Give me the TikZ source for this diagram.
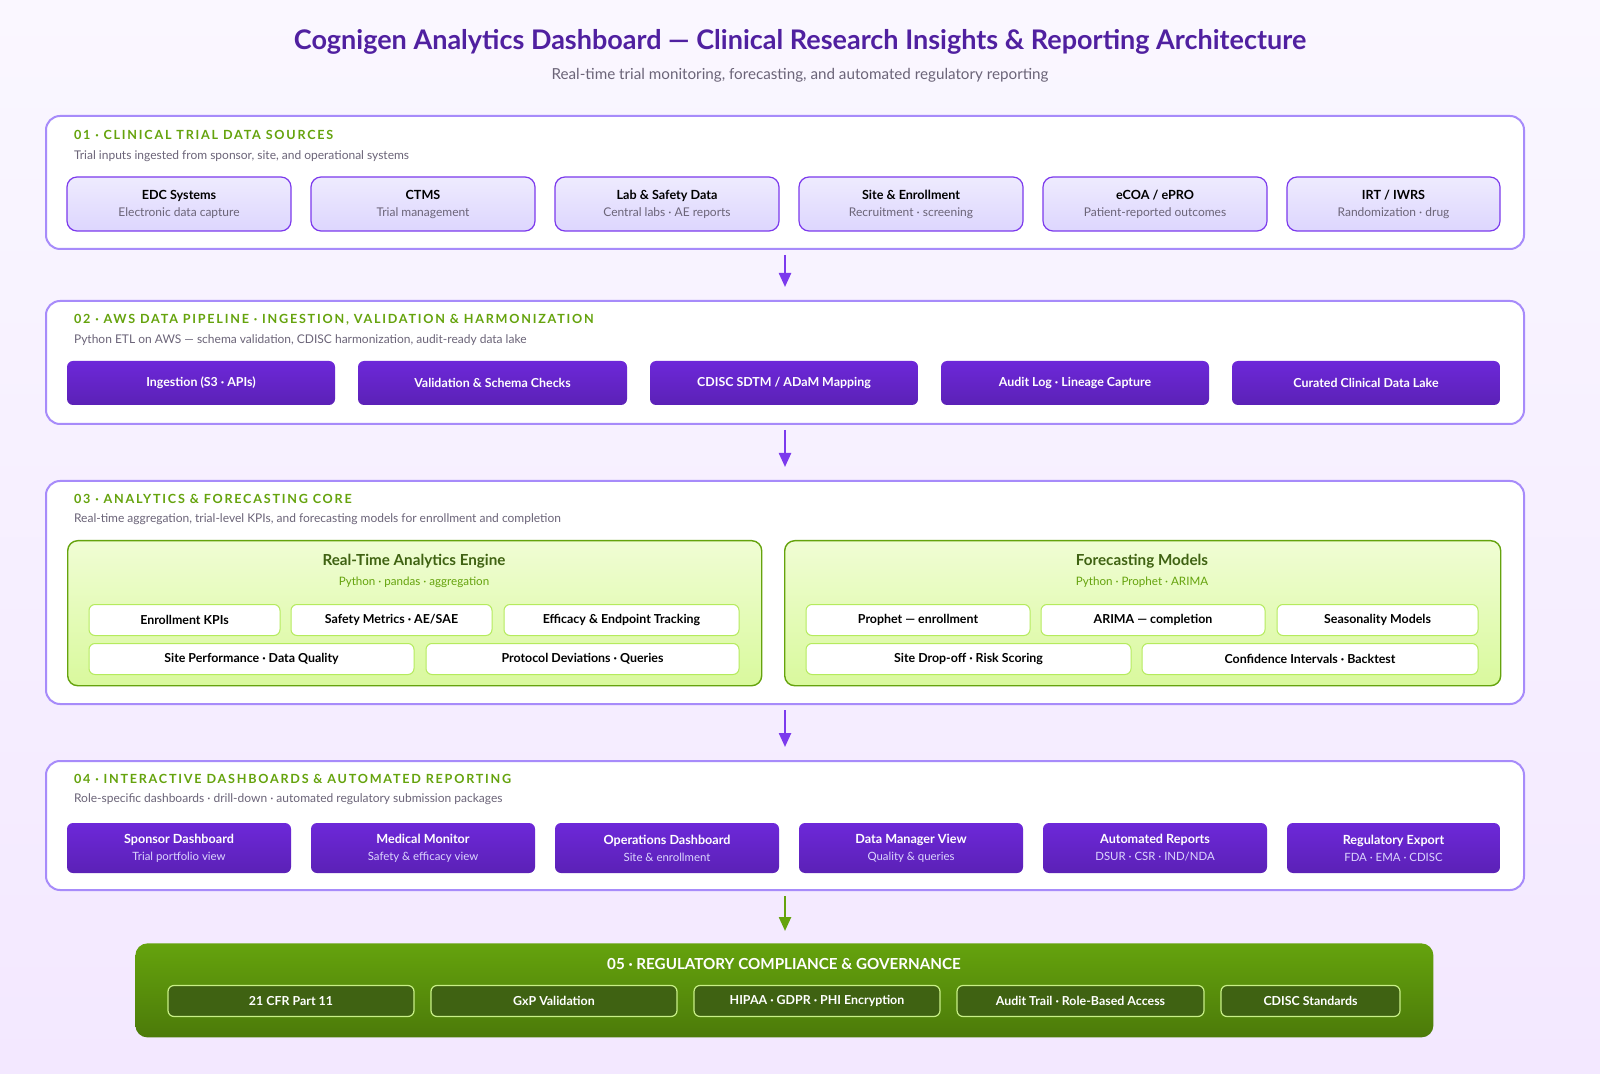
\documentclass[tikz,border=0pt]{standalone}
\usepackage{fontspec}
\setmainfont{Lato}
\newfontfamily\spaced[LetterSpace=14]{Lato}
\usetikzlibrary{arrows.meta,positioning}
\definecolor{ink}{HTML}{5020A0}
\definecolor{hdr}{HTML}{65A30D}
\definecolor{grayt}{HTML}{6B6478}
\definecolor{pborder}{HTML}{A78BFA}
\definecolor{vio}{HTML}{7C3AED}
\definecolor{deep}{HTML}{5B21B6}
\definecolor{mid}{HTML}{6D28D9}
\definecolor{lime}{HTML}{A3E635}
\definecolor{olive}{HTML}{3F6212}
\definecolor{lav1}{HTML}{EEEBFE}
\definecolor{lav2}{HTML}{DDD6FE}
\definecolor{bg1}{HTML}{FAF7FF}
\definecolor{bg2}{HTML}{F3E8FF}
\definecolor{eng1}{HTML}{F0FDD4}
\definecolor{eng2}{HTML}{D9F99D}
\tikzset{
  panel/.style={draw=pborder, line width=1pt, fill=white, rounded corners=7pt, anchor=north west, inner sep=0pt},
  src/.style={draw=vio, line width=0.6pt, top color=lav1, bottom color=lav2, rounded corners=5pt, align=center, font=\fontsize{6}{8.5}\selectfont},
  pipe/.style={top color=mid, bottom color=deep, rounded corners=3pt, text=white, align=center, font=\fontsize{6.2}{8.5}\selectfont\bfseries},
  engine/.style={draw=hdr, line width=0.7pt, top color=eng1, bottom color=eng2, rounded corners=5pt, anchor=north west, inner sep=0pt},
  pill/.style={draw=lime!80, line width=0.5pt, fill=white, rounded corners=3pt, font=\fontsize{6.2}{7}\selectfont\bfseries},
  rule/.style={draw=lime!60, line width=0.6pt, fill=olive, rounded corners=3pt, text=white, font=\fontsize{6.2}{7}\selectfont\bfseries},
  head/.style={anchor=west, text=hdr, font=\fontsize{6.3}{7}\spaced\bfseries},
  note/.style={anchor=west, text=grayt, font=\fontsize{6}{7}\selectfont},
  flow/.style={-{Triangle[length=7pt,width=6pt]}, line width=1.2pt, draw=vio, shorten <=2.5pt, shorten >=6.5pt},
}
\begin{document}
\begin{tikzpicture}[x=0.5pt,y=-0.5pt]
\fill[top color=bg1, bottom color=bg2] (0,0) rectangle (1600,1074);

% title
\node[text=ink, font=\fontsize{13.5}{16}\selectfont\bfseries] (title) at (800,42) {Cognigen Analytics Dashboard — Clinical Research Insights \& Reporting Architecture};
\node[text=grayt, font=\fontsize{7.6}{9}\selectfont] (subtitle) at (800,75) {Real-time trial monitoring, forecasting, and automated regulatory reporting};

% 01 sources
\node[panel, minimum width=739pt, minimum height=66.5pt] (p1) at (45,115) {};
\node[head] at (67,135) {01 · CLINICAL TRIAL DATA SOURCES};
\node[note] at (67,156) {Trial inputs ingested from sponsor, site, and operational systems};
\foreach \n/\a/\b/\t/\s in {edc/67/291/EDC Systems/Electronic data capture,
  ctms/311/535/CTMS/Trial management,
  lab/555/779/Lab \& Safety Data/Central labs · AE reports,
  site/799/1023/Site \& Enrollment/Recruitment · screening,
  ecoa/1043/1267/{eCOA / ePRO}/Patient-reported outcomes,
  irt/1287/1500/{IRT / IWRS}/Randomization · drug}
  \node[src, minimum width={(\b-\a)*0.5pt}, minimum height=27pt] (\n) at ({(\a+\b)/2},204)
    {\textbf{\fontsize{6.3}{8.5}\selectfont\t}\\\textcolor{grayt}{\s}};

% 02 pipeline
\node[panel, minimum width=739pt, minimum height=61.5pt] (p2) at (45,300) {};
\node[head] at (67,320) {02 · AWS DATA PIPELINE · INGESTION, VALIDATION \& HARMONIZATION};
\node[note] at (67,340) {Python ETL on AWS — schema validation, CDISC harmonization, audit-ready data lake};
\foreach \n/\a/\b/\t in {ing/67/335/Ingestion (S3 · APIs),
  val/358/627/Validation \& Schema Checks,
  map/650/918/{CDISC SDTM / ADaM Mapping},
  aud/941/1209/Audit Log · Lineage Capture,
  lake/1232/1500/Curated Clinical Data Lake}
  \node[pipe, minimum width={(\b-\a)*0.5pt}, minimum height=22pt] (\n) at ({(\a+\b)/2},383) {\t};

% 03 analytics
\node[panel, minimum width=739pt, minimum height=111.5pt] (p3) at (45,480) {};
\node[head] at (67,499) {03 · ANALYTICS \& FORECASTING CORE};
\node[note] at (67,519) {Real-time aggregation, trial-level KPIs, and forecasting models for enrollment and completion};
\node[engine, minimum width=347pt, minimum height=72.5pt] (rt) at (67,540) {};
\node[engine, minimum width=358pt, minimum height=72.5pt] (fc) at (784,540) {};
\node[text=olive, font=\fontsize{7.6}{9}\selectfont\bfseries] at (414,561) {Real-Time Analytics Engine};
\node[text=hdr, font=\fontsize{5.8}{7}\selectfont] at (414,582) {Python · pandas · aggregation};
\node[text=olive, font=\fontsize{7.6}{9}\selectfont\bfseries] at (1142,561) {Forecasting Models};
\node[text=hdr, font=\fontsize{5.8}{7}\selectfont] at (1142,582) {Python · Prophet · ARIMA};
\foreach \n/\a/\b/\y/\t in {kpi/89/280/620/Enrollment KPIs,
  saf/291/492/620/{Safety Metrics · AE/SAE},
  eff/504/739/620/Efficacy \& Endpoint Tracking,
  perf/89/414/659/Site Performance · Data Quality,
  dev/426/739/659/Protocol Deviations · Queries,
  pro/806/1030/620/Prophet — enrollment,
  ari/1041/1265/620/ARIMA — completion,
  sea/1277/1478/620/Seasonality Models,
  drop/806/1131/659/Site Drop-off · Risk Scoring,
  ci/1142/1478/659/Confidence Intervals · Backtest}
  \node[pill, minimum width={(\b-\a)*0.5pt}, minimum height=15.5pt] (\n) at ({(\a+\b)/2},\y) {\t};

% 04 dashboards
\node[panel, minimum width=739pt, minimum height=64.5pt] (p4) at (45,760) {};
\node[head] at (67,779) {04 · INTERACTIVE DASHBOARDS \& AUTOMATED REPORTING};
\node[note] at (67,799) {Role-specific dashboards · drill-down · automated regulatory submission packages};
\foreach \n/\a/\b/\t/\s in {spo/67/291/Sponsor Dashboard/Trial portfolio view,
  med/311/535/Medical Monitor/Safety \& efficacy view,
  ops/555/779/Operations Dashboard/Site \& enrollment,
  dm/799/1023/Data Manager View/Quality \& queries,
  rep/1043/1267/Automated Reports/{DSUR · CSR · IND/NDA},
  exp/1287/1500/Regulatory Export/FDA · EMA · CDISC}
  \node[pipe, minimum width={(\b-\a)*0.5pt}, minimum height=25pt, font=\fontsize{5.7}{8.5}\selectfont] (\n) at ({(\a+\b)/2},848)
    {\textbf{\fontsize{6.3}{8.5}\selectfont\t}\\\textcolor{lav2}{\s}};

% 05 compliance
\node[anchor=north west, minimum width=649pt, minimum height=47pt, top color=hdr, bottom color=hdr!75!black, rounded corners=6pt, inner sep=0pt] (p5) at (135,943) {};
\node[text=white, font=\fontsize{7.6}{9}\selectfont\bfseries] at (784,964) {05 · REGULATORY COMPLIANCE \& GOVERNANCE};
\foreach \n/\a/\b/\t in {cfr/168/414/21 CFR Part 11,
  gxp/431/677/GxP Validation,
  hip/694/940/HIPAA · GDPR · PHI Encryption,
  trl/957/1204/Audit Trail · Role-Based Access,
  cds/1221/1400/CDISC Standards}
  \node[rule, minimum width={(\b-\a)*0.5pt}, minimum height=15.5pt] (\n) at ({(\a+\b)/2},1001) {\t};

% flow
\draw[flow] (p1.south) -- (p2.north);
\draw[flow] (p2.south) -- (p3.north);
\draw[flow] (p3.south) -- (p4.north);
\draw[flow, draw=hdr, shorten >=6pt] (p4.south) -- (p4.south |- p5.north);

\pgfresetboundingbox
\useasboundingbox (0,0) rectangle (1600,1074);
\end{tikzpicture}
\end{document}
